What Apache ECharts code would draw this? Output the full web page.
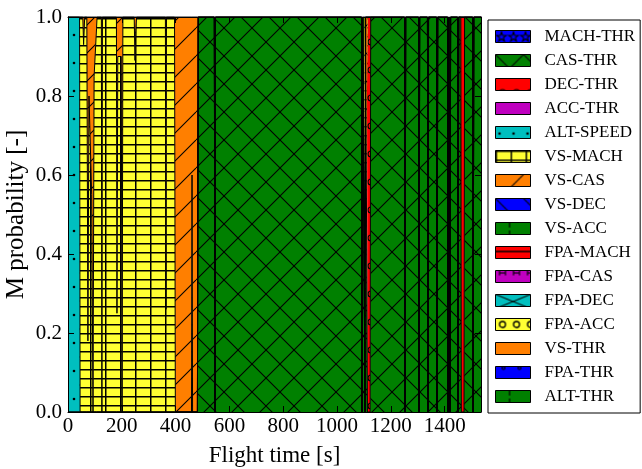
<!DOCTYPE html>
<html lang="en">
<head>
<meta charset="UTF-8">
<title>M probability</title>
<style>
  html, body { margin: 0; padding: 0; background: #fff; }
  #main { width: 642px; height: 469px; }
</style>
</head>
<body>
<div id="main"></div>
<script src="https://cdn.jsdelivr.net/npm/echarts@6/dist/echarts.min.js"></script>
<script>
// sample instants [s] shared by every mode (stacked by index)
var times = [
  0, 43, 45, 55, 58, 62, 70, 74, 78, 88,
  93, 97, 106, 108, 124, 126, 128, 180, 182, 185,
  198, 201, 204, 246, 249, 252, 255, 362, 364, 366,
  396, 399, 459, 461, 463, 481, 484, 544, 546, 548,
  1091, 1093, 1095, 1102, 1104, 1106, 1111, 1113, 1123, 1125,
  1251, 1253, 1255, 1303, 1305, 1307, 1336, 1338, 1340, 1370,
  1372, 1374, 1411, 1413, 1415, 1418, 1420, 1422, 1448, 1450,
  1452, 1460, 1462, 1472, 1474, 1504, 1506, 1508, 1535
];

var altSpeed = [
  1, 1, 0, 0, 0, 0, 0, 0, 0, 0,
  0, 0, 0, 0, 0, 0, 0, 0, 0, 0,
  0, 0, 0, 0, 0, 0, 0, 0, 0, 0,
  0, 0, 0, 0, 0, 0, 0, 0, 0, 0,
  0, 0, 0, 0, 0, 0, 0, 0, 0, 0,
  0, 0, 0, 0, 0, 0, 0, 0, 0, 0,
  0, 0, 0, 0, 0, 0, 0, 0, 0, 0,
  0, 0, 0, 0, 0, 0, 0, 0, 0
];

var vsMach = [
  0, 0, 1, 1, 0.93, 1, 1, 0.18, 0.8, 0.55,
  0, 0.85, 0.97, 1, 1, 0, 1, 1, 0.25, 0.9,
  0.9, 0, 1, 1, 0.89, 0.97, 1, 1, 0.26, 1,
  1, 0, 0, 0.6, 0, 0, 0, 0, 0, 0,
  0, 0, 0, 0, 0.37, 0, 0, 0, 0, 0,
  0, 0, 0, 0, 0, 0, 0, 0, 0, 0,
  0, 0, 0, 0, 0, 0, 0, 0, 0, 0,
  0, 0, 0, 0, 0, 0, 0, 0, 0
];

var vsCas = [
  0, 0, 0, 0, 0.07, 0, 0, 0.82, 0.2, 0.45,
  1, 0.15, 0.03, 0, 0, 1, 0, 0, 0.75, 0.1,
  0.1, 1, 0, 0, 0.11, 0.03, 0, 0, 0.74, 0,
  0, 1, 1, 0.4, 1, 1, 0, 0, 0, 0,
  0, 0, 0, 0, 0.63, 0, 0, 0, 0, 0,
  0, 0, 0, 0, 0, 0, 0, 0, 0, 0,
  0, 0, 0, 0, 0, 0, 0, 0, 0, 0,
  0, 0, 0, 0, 0, 0, 0, 0, 0
];

var casThr = [
  0, 0, 0, 0, 0, 0, 0, 0, 0, 0,
  0, 0, 0, 0, 0, 0, 0, 0, 0, 0,
  0, 0, 0, 0, 0, 0, 0, 0, 0, 0,
  0, 0, 0, 0, 0, 0, 1, 1, 0, 1,
  1, 0, 1, 1, 0, 1, 1, 0, 0, 1,
  1, 0, 1, 1, 0, 1, 1, 0, 1, 1,
  0, 1, 1, 0, 1, 1, 0, 1, 1, 0,
  1, 1, 0, 0, 1, 1, 0, 1, 1
];

var decThr = [
  0, 0, 0, 0, 0, 0, 0, 0, 0, 0,
  0, 0, 0, 0, 0, 0, 0, 0, 0, 0,
  0, 0, 0, 0, 0, 0, 0, 0, 0, 0,
  0, 0, 0, 0, 0, 0, 0, 0, 0, 0,
  0, 0, 0, 0, 0, 0, 0, 1, 1, 0,
  0, 0, 0, 0, 0, 0, 0, 0, 0, 0,
  0, 0, 0, 0, 0, 0, 0, 0, 0, 0,
  0, 0, 1, 1, 0, 0, 0, 0, 0
];

var altThr = [
  0, 0, 0, 0, 0, 0, 0, 0, 0, 0,
  0, 0, 0, 0, 0, 0, 0, 0, 0, 0,
  0, 0, 0, 0, 0, 0, 0, 0, 0, 0,
  0, 0, 0, 0, 0, 0, 0, 0, 1, 0,
  0, 1, 0, 0, 0, 0, 0, 0, 0, 0,
  0, 1, 0, 0, 1, 0, 0, 1, 0, 0,
  1, 0, 0, 1, 0, 0, 1, 0, 0, 1,
  0, 0, 0, 0, 0, 0, 1, 0, 0
];

// legend / stacking order (first one at the bottom of the stack)
var modeNames = ['MACH-THR', 'CAS-THR', 'DEC-THR', 'ACC-THR', 'ALT-SPEED', 'VS-MACH', 'VS-CAS', 'VS-DEC',
  'VS-ACC', 'FPA-MACH', 'FPA-CAS', 'FPA-DEC', 'FPA-ACC', 'VS-THR', 'FPA-THR', 'ALT-THR'];

var modeValues = {
  'CAS-THR': casThr,
  'DEC-THR': decThr,
  'ALT-SPEED': altSpeed,
  'VS-MACH': vsMach,
  'VS-CAS': vsCas,
  'ALT-THR': altThr
};

var modeColors = ['#0000ff', '#008000', '#ff0000', '#bf00bf', '#00bfbf', '#ffff33', '#ff7f00', '#0000ff',
  '#008000', '#ff0000', '#bf00bf', '#00bfbf', '#ffff33', '#ff7f00', '#0000ff', '#008000'];
var modeHatch = ['star', 'x', 'o', 'none', 'dot', 'grid', 'slash', 'bslash',
  'vbar', 'hbar', 'hmark', 'bigx', 'ring', 'none', 'pdot', 'vbar'];

var serif = 'Liberation Serif';

function strokeSeg(g, x0, y0, x1, y1) {
  g.beginPath();
  g.moveTo(x0, y0);
  g.lineTo(x1, y1);
  g.stroke();
}

// small canvas tiles used as repeating fill patterns (matplotlib-like hatches)
function makeHatch(color, kind) {
  var sizes = {x: [28, 28], bigx: [35, 14], grid: [15, 9], slash: [28, 28], bslash: [28, 28], o: [14, 28],
    dot: [14, 28], star: [12, 12], vbar: [28, 14], hbar: [28, 12], hmark: [14, 12], ring: [14, 12],
    pdot: [16, 12], none: [8, 8]};
  var s = sizes[kind];
  var c = document.createElement('canvas');
  c.width = s[0];
  c.height = s[1];
  var g = c.getContext('2d');
  g.fillStyle = color;
  g.fillRect(0, 0, s[0], s[1]);
  g.strokeStyle = '#000';
  g.fillStyle = '#000';
  g.lineWidth = 1.1;
  var w = s[0], h = s[1], k;
  if (kind === 'x' || kind === 'bigx') {
    for (k = -w; k <= w; k += w) {
      strokeSeg(g, k, 0, k + w, h);
      strokeSeg(g, k + w, 0, k, h);
    }
  } else if (kind === 'slash') {
    for (k = -w; k <= w; k += w) strokeSeg(g, k, h, k + w, 0);
  } else if (kind === 'bslash') {
    for (k = -w; k <= w; k += w) strokeSeg(g, k, 0, k + w, h);
  } else if (kind === 'grid') {
    g.lineWidth = 1.5;
    strokeSeg(g, 0.75, 0, 0.75, h);
    strokeSeg(g, 0, 0.75, w, 0.75);
  } else if (kind === 'o') {
    g.beginPath();
    g.arc(7, 14, 3, 0, Math.PI * 2);
    g.stroke();
  } else if (kind === 'ring') {
    g.lineWidth = 1.3;
    g.beginPath();
    g.arc(7, 6, 3, 0, Math.PI * 2);
    g.stroke();
  } else if (kind === 'dot') {
    g.beginPath();
    g.arc(4, 7, 1.3, 0, Math.PI * 2);
    g.fill();
    g.beginPath();
    g.arc(11, 21, 1.3, 0, Math.PI * 2);
    g.fill();
  } else if (kind === 'pdot') {
    g.beginPath();
    g.arc(8, 1.5, 1.5, 0, Math.PI * 2);
    g.stroke();
  } else if (kind === 'star') {
    g.beginPath();
    for (k = 0; k < 10; k++) {
      var r = k % 2 ? 2 : 5;
      var a = -Math.PI / 2 + k * Math.PI / 5;
      var px = 6 + r * Math.cos(a), py = 6.5 + r * Math.sin(a);
      if (k === 0) g.moveTo(px, py); else g.lineTo(px, py);
    }
    g.closePath();
    g.stroke();
  } else if (kind === 'vbar') {
    g.lineWidth = 1.2;
    strokeSeg(g, 14, 0, 14, 5);
    strokeSeg(g, 14, 8, 14, 14);
  } else if (kind === 'hbar') {
    g.lineWidth = 1.5;
    strokeSeg(g, 0, 5, w, 5);
  } else if (kind === 'hmark') {
    strokeSeg(g, 4, 0, 4, 5);
    strokeSeg(g, 10, 0, 10, 5);
    strokeSeg(g, 4, 2.5, 10, 2.5);
  }
  return {image: c, repeat: 'repeat'};
}

var modeFill = modeNames.map(function (n, k) {
  return makeHatch(modeColors[k], modeHatch[k]);
});

var myChart = echarts.init(document.getElementById('main'), null, {renderer: 'canvas'});

var axisText = {fontFamily: serif, fontSize: 21, color: '#000'};

var option = {
  animation: false,
  backgroundColor: '#fff',
  grid: {
    left: 68,
    right: 161,
    top: 17,
    bottom: 57,
    containLabel: false,
    outerBoundsMode: 'none'
  },
  legend: {
    orient: 'vertical',
    left: 488,
    top: 20,
    padding: [8, 5, 8, 7],
    itemWidth: 35,
    itemHeight: 12,
    itemGap: 7,
    borderColor: '#000',
    borderWidth: 1,
    backgroundColor: '#fff',
    selectedMode: false,
    textStyle: {fontFamily: serif, fontSize: 17, color: '#000', padding: [0, 0, 0, 9]},
    data: modeNames.map(function (n, k) {
      return {
        name: n,
        icon: 'rect',
        itemStyle: {color: modeFill[k], borderColor: '#000', borderWidth: 1, opacity: 1}
      };
    })
  },
  xAxis: [{
    type: 'value',
    position: 'bottom',
    min: 0,
    max: 1535,
    interval: 200,
    z: 10,
    name: 'Flight time [s]',
    nameLocation: 'middle',
    nameGap: 32,
    nameMoveOverlap: false,
    nameTextStyle: {fontFamily: serif, fontSize: 23, color: '#000'},
    axisLine: {onZero: false, lineStyle: {color: '#000', width: 1}},
    axisTick: {inside: true, length: 6, lineStyle: {color: '#000'}},
    axisLabel: Object.assign({
      margin: 4,
      showMaxLabel: false,
      formatter: function (v) { return String(v); }
    }, axisText),
    splitLine: {show: false}
  }, {
    type: 'value',
    position: 'top',
    min: 0,
    max: 1535,
    interval: 200,
    z: 10,
    axisLine: {onZero: false, lineStyle: {color: '#000', width: 1}},
    axisTick: {inside: true, length: 6, lineStyle: {color: '#000'}},
    axisLabel: {show: false},
    splitLine: {show: false}
  }],
  yAxis: [{
    type: 'value',
    position: 'left',
    min: 0,
    max: 1,
    interval: 0.2,
    z: 10,
    name: 'M probability [-]',
    nameLocation: 'middle',
    nameGap: 39,
    nameMoveOverlap: false,
    nameTextStyle: {fontFamily: serif, fontSize: 25, color: '#000'},
    axisLine: {onZero: false, lineStyle: {color: '#000', width: 1}},
    axisTick: {inside: true, length: 6, lineStyle: {color: '#000'}},
    axisLabel: Object.assign({
      margin: 6,
      formatter: function (v) { return v.toFixed(1); }
    }, axisText),
    splitLine: {show: false}
  }, {
    type: 'value',
    position: 'right',
    min: 0,
    max: 1,
    interval: 0.2,
    z: 10,
    axisLine: {onZero: false, lineStyle: {color: '#000', width: 1}},
    axisTick: {inside: true, length: 6, lineStyle: {color: '#000'}},
    axisLabel: {show: false},
    splitLine: {show: false}
  }],
  series: modeNames.map(function (name, k) {
    var vals = modeValues[name] || [];
    return {
      name: name,
      type: 'line',
      stack: 'mode',
      symbol: 'none',
      showSymbol: false,
      smooth: false,
      lineStyle: {color: '#000', width: 1},
      itemStyle: {color: modeFill[k]},
      areaStyle: {color: modeFill[k], opacity: 1},
      emphasis: {disabled: true},
      // value first so that ECharts stacks the probability dimension, time second
      encode: {x: 1, y: 0},
      data: vals.map(function (v, i) { return [v, times[i]]; })
    };
  })
};

myChart.setOption(option);
</script>
</body>
</html>
